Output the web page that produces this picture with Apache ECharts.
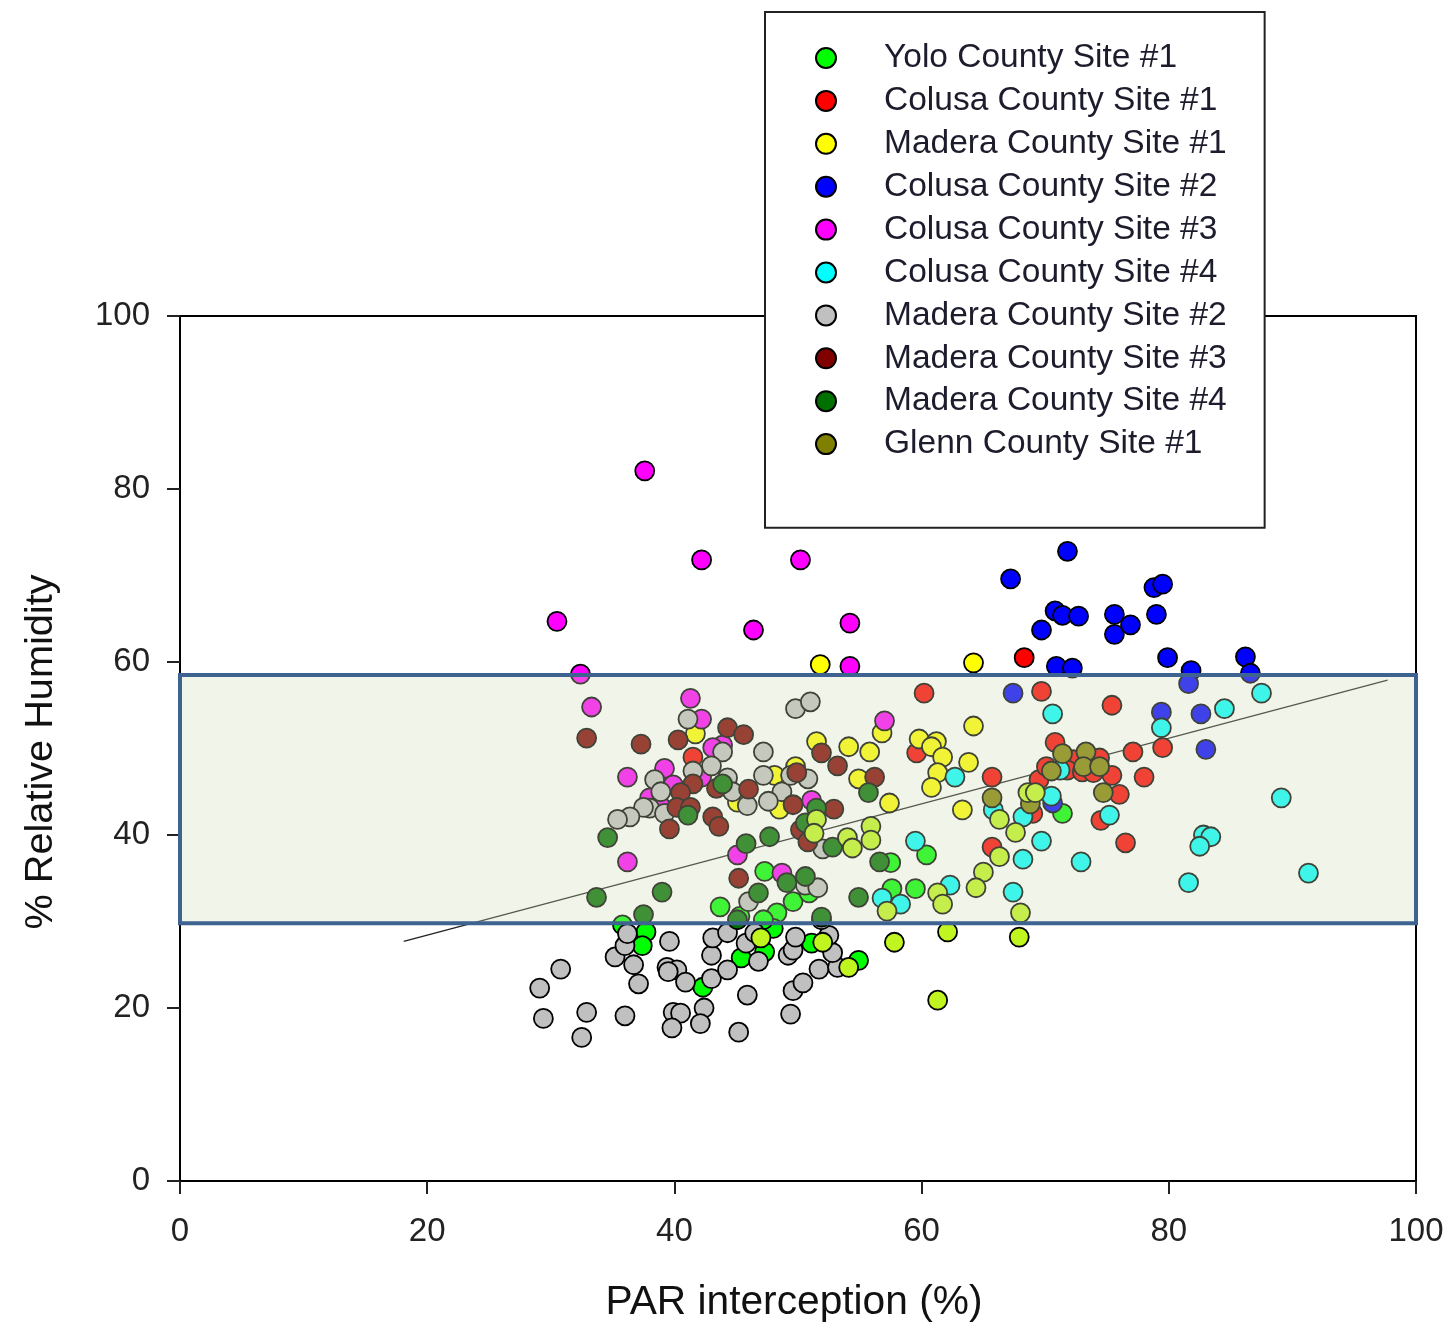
<!DOCTYPE html>
<html><head><meta charset="utf-8">
<style>html,body{margin:0;padding:0;background:#fff}#c{width:1452px;height:1336px}</style>
<script src="https://cdn.jsdelivr.net/npm/echarts@6/dist/echarts.min.js"></script>
</head><body><div id="c"></div>
<script>
const yolo1=[[47.3,35.8],[49.6,32.3],[43.7,31.7],[48.3,31.0],[45.3,30.6],[47.2,30.0],[60.4,37.7],[57.5,36.8],[57.6,33.8],[59.5,33.8],[71.4,42.5],[50.9,33.3],[37.7,28.8],[37.4,27.2],[35.8,29.6],[45.4,25.8],[47.3,26.5],[51.1,27.5],[54.9,25.5],[42.3,22.4],[48.0,29.2],[47.2,30.2]];
const colusa1=[[68.3,60.5],[60.2,56.4],[69.7,56.6],[75.4,55.0],[70.8,50.7],[77.1,49.6],[79.5,50.1],[59.6,49.5],[65.7,46.7],[78.0,46.7],[75.4,46.9],[76.0,44.7],[69.5,46.4],[74.5,41.7],[76.5,39.1],[65.7,38.6],[69.0,42.5],[72.3,48.7],[71.8,47.5],[73.0,47.3],[73.9,47.2],[74.4,48.9],[70.1,47.9],[41.5,49.0]];
const madera1=[[51.8,59.7],[64.2,59.9],[64.2,52.6],[41.7,51.7],[56.8,51.8],[51.5,50.8],[54.1,50.2],[55.8,49.6],[59.8,51.1],[61.2,50.8],[60.8,50.2],[61.7,49.0],[63.8,48.4],[61.3,47.2],[60.8,45.5],[54.9,46.5],[57.4,43.7],[63.3,42.9],[49.8,47.9],[48.1,46.9],[48.5,43.0],[45.1,43.8]];
const colusa2=[[67.2,69.6],[71.8,72.8],[69.7,63.7],[70.8,65.9],[71.4,65.4],[72.7,65.3],[75.6,65.5],[75.6,63.2],[76.9,64.3],[79.0,65.5],[78.8,68.6],[79.5,69.0],[79.9,60.5],[70.9,59.5],[72.2,59.3],[81.8,59.0],[86.2,60.6],[86.6,58.7],[67.4,56.4],[79.4,54.2],[81.6,57.5],[82.6,54.0],[83.0,49.9],[70.6,43.7]];
const colusa3=[[37.6,82.1],[42.2,71.8],[50.2,71.8],[30.5,64.7],[46.4,63.7],[54.2,64.5],[54.2,59.5],[32.4,58.6],[33.3,54.8],[41.3,55.8],[42.2,53.4],[57.0,53.2],[36.2,46.7],[39.2,47.7],[43.9,50.4],[43.1,50.1],[39.9,45.8],[51.1,44.0],[36.2,36.9],[45.1,37.7],[48.7,35.6],[38.0,44.3],[38.8,43.5],[42.2,46.7]];
const colusa4=[[87.5,56.4],[84.5,54.6],[79.4,52.4],[70.6,54.0],[62.7,46.7],[70.5,44.5],[65.8,42.9],[68.2,42.1],[69.7,39.3],[68.2,37.2],[72.9,36.9],[75.2,42.3],[89.1,44.3],[82.8,40.0],[83.4,39.8],[82.5,38.7],[81.6,34.5],[91.3,35.6],[67.4,33.4],[59.5,39.3],[62.3,34.2],[56.8,32.7],[58.3,32.0],[71.2,47.5]];
const madera2=[[30.8,24.5],[29.1,22.3],[29.4,18.8],[32.9,19.5],[32.5,16.6],[36.0,19.1],[37.1,22.8],[35.2,25.9],[36.7,25.0],[36.0,27.2],[36.2,28.6],[39.6,27.7],[39.4,24.7],[40.2,24.4],[39.5,24.2],[40.9,23.0],[43.0,23.4],[44.3,24.4],[43.0,26.1],[43.1,28.1],[44.3,28.7],[45.8,27.5],[46.8,25.4],[45.9,21.5],[42.4,20.0],[39.9,19.5],[40.5,19.4],[42.1,18.2],[39.8,17.7],[45.2,17.2],[49.4,19.3],[49.6,22.0],[50.4,22.9],[51.7,24.5],[53.2,24.7],[52.8,26.4],[49.2,26.1],[49.6,26.7],[49.8,28.2],[52.5,28.4],[46.5,28.7],[49.8,54.6],[51.0,55.4],[41.1,53.4],[43.9,49.6],[47.2,49.6],[43.0,48.0],[41.5,47.4],[38.4,46.4],[38.9,45.0],[38.0,43.1],[37.5,43.2],[39.2,42.5],[36.4,42.1],[35.4,41.8],[44.3,46.6],[44.7,45.0],[47.2,46.9],[48.7,45.0],[47.6,43.9],[45.9,43.4],[49.4,46.9],[50.8,46.5],[52.0,38.4],[46.0,32.3],[50.6,34.2],[51.6,33.9],[51.9,30.2]];
const madera3=[[32.9,51.2],[37.3,50.5],[40.3,51.0],[44.3,52.4],[45.6,51.6],[51.9,49.5],[53.2,48.0],[56.2,46.7],[49.9,47.2],[41.5,45.9],[40.5,44.9],[43.4,45.4],[46.0,45.3],[40.2,43.2],[41.3,43.2],[39.6,40.7],[43.1,42.1],[43.6,41.0],[49.6,43.5],[52.9,43.0],[50.2,40.6],[50.8,39.2],[45.2,35.0]];
const madera4=[[34.6,39.7],[41.1,42.3],[43.9,45.9],[47.7,39.8],[45.8,39.0],[51.5,43.1],[50.6,41.4],[52.8,38.6],[55.7,44.9],[56.6,36.9],[54.9,32.8],[33.7,32.8],[39.0,33.4],[37.5,30.8],[49.1,34.5],[50.6,35.2],[46.8,33.3],[45.1,30.2],[51.9,30.5]];
const glenn1=[[71.4,49.4],[73.3,49.6],[73.1,47.9],[74.4,47.9],[70.5,47.4],[74.7,44.9],[65.7,44.3],[68.8,43.6]];
const unlisted=[[47.0,28.1],[52.0,27.6],[54.1,24.7],[57.8,27.6],[62.1,28.8],[61.3,20.9],[67.9,28.2],[67.6,40.3],[66.3,37.5],[65.0,35.7],[64.4,33.9],[61.3,33.3],[61.7,32.0],[57.2,31.2],[68.0,31.0],[66.3,41.8],[68.6,44.9],[69.2,44.9],[55.9,41.0],[55.9,39.4],[54.0,39.7],[54.4,38.5],[51.5,41.8],[51.3,40.2]];
const trend=[[18.1,27.7],[97.7,57.9]];
const band=[29.8,58.5];
const sites=[["Yolo County Site #1",yolo1,"#00ff00"],["Colusa County Site #1",colusa1,"#ff0000"],["Madera County Site #1",madera1,"#ffff00"],["Colusa County Site #2",colusa2,"#0000ff"],["Colusa County Site #3",colusa3,"#ff00ff"],["Colusa County Site #4",colusa4,"#00ffff"],["Madera County Site #2",madera2,"#c0c0c0"],["Madera County Site #3",madera3,"#800000"],["Madera County Site #4",madera4,"#007000"],["Glenn County Site #1",glenn1,"#808000"]];
const font="'Liberation Sans',Arial,sans-serif";
const mk=(name,data,color)=>({name,type:"scatter",data,symbol:"circle",symbolSize:19,z:2,
  itemStyle:{color,opacity:1,borderColor:"#000",borderWidth:1.8},emphasis:{disabled:true},silent:true,animation:false});
const series=sites.map(s=>mk(s[0],s[1],s[2]));
series.push(mk("unlisted",unlisted,"#c0f520"));
series.push({name:"trend",type:"line",data:trend,symbol:"none",z:2,silent:true,animation:false,lineStyle:{color:"#222",width:1.4}});
series.push({name:"band",type:"scatter",data:[],z:3,silent:true,animation:false,
  markArea:{silent:true,z:5,itemStyle:{color:"rgba(208,218,178,0.3)",borderColor:"#3f6391",borderWidth:4,opacity:1},
  data:[[{xAxis:0,yAxis:band[0]},{xAxis:100,yAxis:band[1]}]]}});
const chart=echarts.init(document.getElementById("c"),null,{renderer:"canvas"});
const axisCommon={min:0,max:100,interval:20,splitLine:{show:false},
  axisLine:{show:true,lineStyle:{color:"#000",width:2}},
  axisTick:{show:true,length:13,lineStyle:{color:"#222",width:2}},
  nameLocation:"middle"};
chart.setOption({animation:false,
  grid:{left:180,top:316,width:1236,height:865,show:true,borderColor:"#000",borderWidth:2,backgroundColor:"transparent",outerBoundsMode:"none",containLabel:false},
  xAxis:Object.assign({type:"value",name:"PAR interception (%)",nameGap:101,
    axisLabel:{fontFamily:font,fontSize:33,color:"#222",margin:34},
    nameTextStyle:{fontFamily:font,fontSize:40.7,color:"#111",padding:[0,8,0,0]}},axisCommon),
  yAxis:Object.assign({type:"value",name:"% Relative Humidity",nameGap:119,
    axisLabel:{fontFamily:font,fontSize:33,color:"#222",margin:30},
    nameTextStyle:{fontFamily:font,fontSize:39.7,color:"#111",padding:[0,7,0,0]}},axisCommon),
  legend:{show:true,data:sites.map(s=>s[0]),orient:"vertical",left:765,top:12,icon:"circle",
    itemWidth:106,itemHeight:20,itemGap:8.9,padding:[29,38,66.6,50],backgroundColor:"#fff",borderColor:"#222",borderWidth:2,
    selectedMode:false,z:6,textStyle:{fontFamily:font,fontSize:33.5,color:"#1c1c2c",padding:[8,0,0,0]}},
  series});
</script></body></html>
